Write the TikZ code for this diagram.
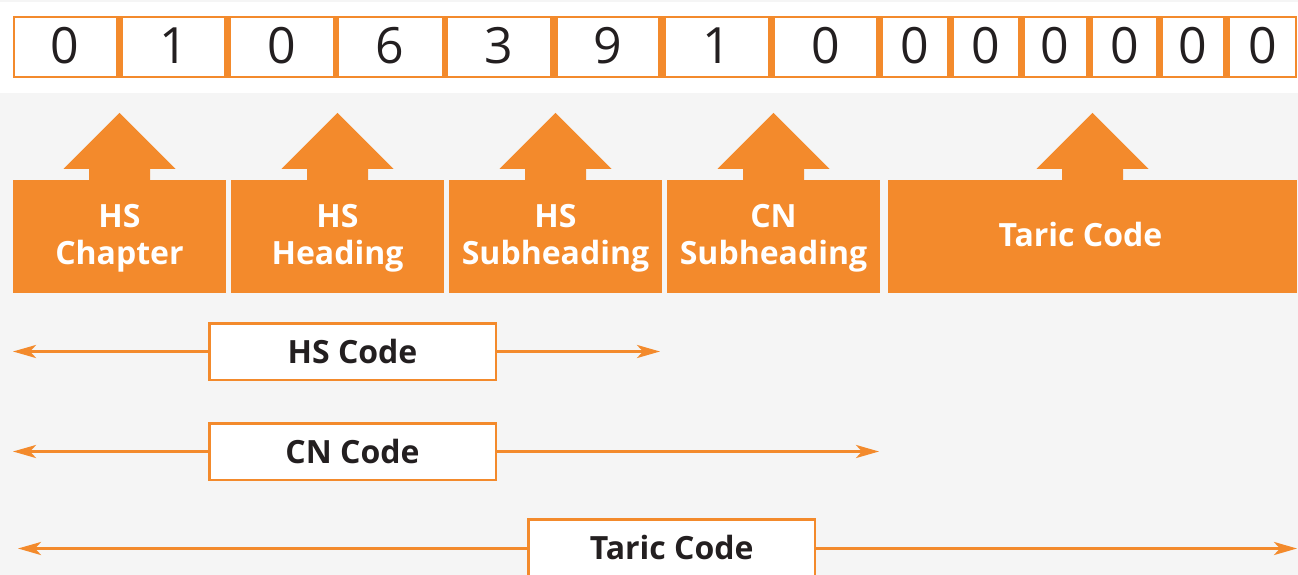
\documentclass[tikz,border=0pt]{standalone}
\usepackage{fontspec}
\setmainfont{Open Sans}
\usetikzlibrary{arrows.meta,calc}
\definecolor{orangeC}{HTML}{F38A2C}
\definecolor{bgC}{HTML}{F5F5F5}
\definecolor{inkC}{HTML}{231F20}
\begin{document}
\begin{tikzpicture}[x=1pt,y=-1pt,
  cell/.style={fill=white, inner sep=0pt, minimum height=57.5pt, text=inkC,
    font=\fontsize{50}{50}\selectfont, text height=35.5pt, text depth=3pt},
  obox/.style={fill=orangeC, inner sep=0pt, minimum height=112.5pt},
  boxtext/.style={anchor=base, text=white, inner sep=0pt,
    font=\bfseries\fontsize{32}{37}\selectfont},
  codebox/.style={draw=orangeC, line width=2.5pt, fill=white, inner sep=0pt,
    minimum width=286.5pt, minimum height=56.5pt, text=inkC,
    font=\bfseries\fontsize{32}{36}\selectfont, text height=23pt, text depth=0pt},
  span/.style={draw=orangeC, line width=3pt,
    -{Stealth[length=23pt,width=13pt,inset=6pt]}}
]
\useasboundingbox (0,0) rectangle (1298,575);
\clip (0,0) rectangle (1298,575);
\fill[bgC] (0,0) rectangle (1298,575);
\fill[white] (0,2) rectangle (1298,93);
% digit strip
\fill[orangeC] (13,16) rectangle (1297,78.5);
\foreach \l/\r/\d [count=\i] in {15/115.5/0, 123/224/1, 231/333/0, 339/441.5/6,
    448/550/3, 558/658/9, 666/768/1, 775/876/0, 883/947/0, 954/1018/0,
    1025/1085.5/0, 1093/1156/0, 1163/1223/0, 1230/1295/0}{
  \pgfmathsetmacro\w{\r-\l}
  \pgfmathsetmacro\cx{(\l+\r)/2}
  \node[cell, minimum width=\w pt] (c\i) at (\cx,47.25) {\d};
}
% orange category boxes
\node[obox, minimum width=213pt] (b1) at (119.5,236.25) {};
\node[obox, minimum width=213pt] (b2) at (337.5,236.25) {};
\node[obox, minimum width=213pt] (b3) at (555.5,236.25) {};
\node[obox, minimum width=213pt] (b4) at (773.5,236.25) {};
\node[obox, minimum width=409pt] (b5) at (1092.5,236.25) {};
\foreach \b in {b1,b2,b3,b4,b5}{
  \fill[orangeC] (\b.north) ++(-30.5,0.5) -- ++(0,-11.5) -- ++(-25.5,0)
    -- ++(56,-56) -- ++(56,56) -- ++(-25.5,0) -- ++(0,11.5) -- cycle;
}
\node[boxtext] (t1a) at ($(b1.north)+(0,48)$) {HS};
\node[boxtext] (t1b) at ($(b1.north)+(0,85)$) {Chapter};
\node[boxtext] (t2a) at ($(b2.north)+(0,48)$) {HS};
\node[boxtext] (t2b) at ($(b2.north)+(0,85)$) {Heading};
\node[boxtext] (t3a) at ($(b3.north)+(0,48)$) {HS};
\node[boxtext] (t3b) at ($(b3.north)+(0,85)$) {Subheading};
\node[boxtext] (t4a) at ($(b4.north)+(0,48)$) {CN};
\node[boxtext] (t4b) at ($(b4.north)+(0,85)$) {Subheading};
\node[boxtext] (t5) at ($(b5.north)+(-12,66.7)$) {Taric Code};
% code spans
\node[codebox] (hs) at (352.5,351.5) {HS Code};
\node[codebox] (cn) at (352.5,451.5) {CN Code};
\node[codebox] (tc) at (671.7,547.5) {Taric Code};
\coordinate (hsL) at (13,351.5);
\coordinate (hsR) at (660,351.5);
\coordinate (cnL) at (13,451.5);
\coordinate (cnR) at (879,451.5);
\coordinate (tcL) at (18,548.5);
\coordinate (tcR) at (1297,548.5);
\draw[span] (hs.west) -- (hsL);
\draw[span] (hs.east) -- (hsR);
\draw[span] (cn.west) -- (cnL);
\draw[span] (cn.east) -- (cnR);
\draw[span] ($(tc.west)+(0,1)$) -- (tcL);
\draw[span] ($(tc.east)+(0,1)$) -- (tcR);
\end{tikzpicture}
\end{document}
